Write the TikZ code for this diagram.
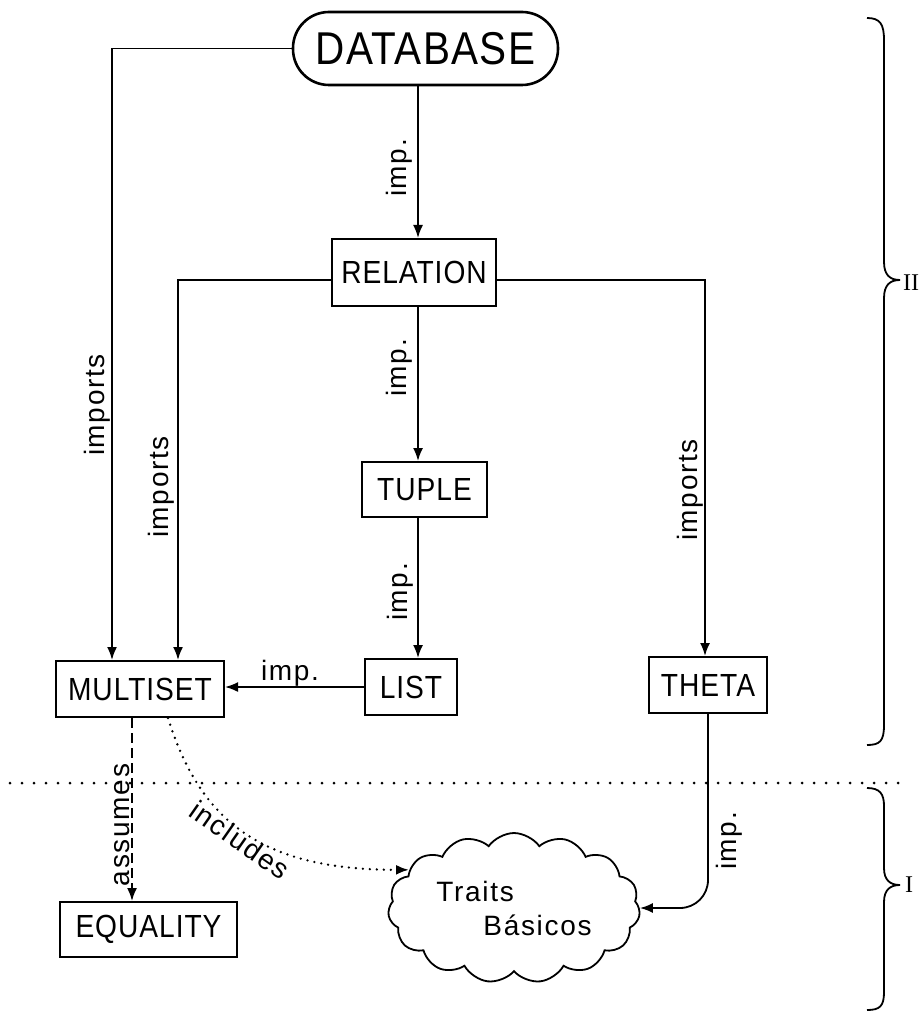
\documentclass[tikz,border=0pt]{standalone}
\usepackage{fontspec}
\setmainfont{Liberation Sans}
\newfontfamily\boxfont[FakeStretch=0.88,LetterSpace=3]{Liberation Sans}
\newfontfamily\lblfont[LetterSpace=6]{Liberation Sans}
\newfontfamily\romfont{Liberation Serif}
\usetikzlibrary{arrows.meta,shapes.symbols,calc}
\begin{document}
\begin{tikzpicture}[x=1pt,y=-1pt,
  box/.style={draw, line width=2pt, inner sep=0pt, font=\boxfont\fontsize{32}{34}\selectfont},
  lbl/.style={font=\lblfont\fontsize{28}{30}\selectfont, inner sep=0pt},
  con/.style={line width=1.8pt, -{Latex[length=13pt,width=10pt]}},
  dsh/.style={dash pattern=on 10pt off 5pt},
  dts/.style={dash pattern=on 0pt off 7pt, line cap=round, line width=2.6pt},
  brace/.style={line width=1.8pt}
]
\useasboundingbox (0,0) rectangle (923,1016);

% nodes
\node[box, minimum width=265pt, minimum height=73pt, rounded corners=36pt, line width=2.6pt,
      font=\boxfont\fontsize{46}{48}\selectfont] (db) at (425.5,48.5) {DATABASE};
\node[box, minimum width=164pt, minimum height=67pt] (rel) at (414,272.5) {RELATION};
\node[box, minimum width=125pt, minimum height=55pt] (tup) at (424.5,489.5) {TUPLE};
\node[box, minimum width=92pt, minimum height=56pt] (lst) at (411,687) {LIST};
\node[box, minimum width=168pt, minimum height=56pt] (ms) at (140,689) {MULTISET};
\node[box, minimum width=118pt, minimum height=56pt] (th) at (708,685) {THETA};
\node[box, minimum width=177pt, minimum height=55pt] (eq) at (148.5,929.5) {EQUALITY};
\node[cloud, draw, line width=1.8pt, cloud puffs=15, cloud puff arc=110, aspect=1.7,
      minimum width=252pt, minimum height=147pt, inner sep=0pt, align=left,
      font=\lblfont\fontsize{28}{34}\selectfont] (cl) at (514,908) {Traits\\\hspace*{47pt}Básicos};

% helper coordinates
\coordinate (spine) at (418,0);
\coordinate (c1) at (112,0);
\coordinate (c2) at (178,0);
\coordinate (c3) at (705,0);
\coordinate (c4) at (132,0);
\coordinate (c5) at (168,0);
\coordinate (r) at (0,280);

% connectors
\draw[con] (db.west) -| (ms.north -| c1);
\draw[con] (db.south -| spine) -- (rel.north -| spine);
\draw[con] (rel.west |- r) -| (ms.north -| c2);
\draw[con] (rel.east |- r) -| (th.north -| c3);
\draw[con] (rel.south -| spine) -- (tup.north -| spine);
\draw[con] (tup.south -| spine) -- (lst.north -| spine);
\draw[con] (lst.west) -- (lst.west -| ms.east);
\draw[con, rounded corners=28pt] (th.south) |- (cl.east);
\draw[con, dsh] (ms.south -| c4) -- (eq.north -| c4);
\draw[con, dts] (ms.south -| c5) .. controls (200,820) and (260,870) .. (cl.160);

% separator
\draw[line width=3pt, dash pattern=on 0pt off 12pt, line cap=round] (10,783) -- (900,783);

% labels
\node[lbl, rotate=90, anchor=south] (l1) at (413,168) {imp.};
\node[lbl, rotate=90, anchor=south] (l2) at (413,368) {imp.};
\node[lbl, rotate=90, anchor=south] (l3) at (414,592) {imp.};
\node[lbl, rotate=90, anchor=south] (l4) at (111,405) {imports};
\node[lbl, rotate=90, anchor=south] (l5) at (175,487) {imports};
\node[lbl, rotate=90, anchor=south] (l6) at (703,490) {imports};
\node[lbl, rotate=90, anchor=north] (l7) at (716,841) {imp.};
\node[lbl, anchor=south] (l8) at (290,687) {imp.};
\node[lbl, rotate=90, anchor=south] (l9) at (130,825) {assumes};
\node[lbl, rotate=-35] (l10) at (240,840) {includes};

% braces
\draw[brace] (867,18) .. controls (880,18) and (884,24) .. (884,40) -- (884,262)
  .. controls (884,275) and (890,280) .. (900,280)
  .. controls (890,280) and (884,285) .. (884,298) -- (884,725)
  .. controls (884,741) and (880,745) .. (867,745);
\draw[brace] (867,788) .. controls (880,788) and (884,794) .. (884,806) -- (884,868)
  .. controls (884,880) and (890,885) .. (900,885)
  .. controls (890,885) and (884,890) .. (884,902) -- (884,992)
  .. controls (884,1006) and (880,1010) .. (867,1010);
\node[font=\romfont\fontsize{24}{26}\selectfont, anchor=west, inner sep=0pt] (n2) at (903,283) {II};
\node[font=\romfont\fontsize{24}{26}\selectfont, anchor=west, inner sep=0pt] (n1) at (905,885) {I};
\end{tikzpicture}
\end{document}
